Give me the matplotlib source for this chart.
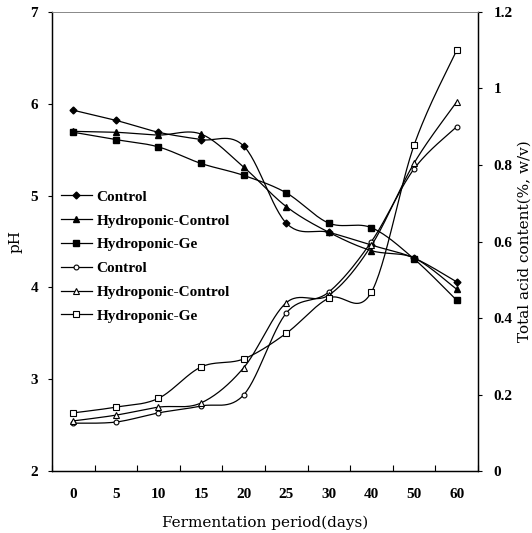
import numpy as np
import matplotlib
matplotlib.use("Agg")
from matplotlib import pyplot as plt
from matplotlib.lines import Line2D

# data
days = ["0", "5", "10", "15", "20", "25", "30", "40", "50", "60"]

ph_control = [5.93, 5.82, 5.69, 5.61, 5.54, 4.70, 4.60, 4.46, 4.32, 4.06]
ph_hydro_ctrl = [5.70, 5.69, 5.66, 5.67, 5.31, 4.88, 4.60, 4.40, 4.32, 3.98]
ph_hydro_ge = [5.69, 5.61, 5.53, 5.35, 5.22, 5.03, 4.70, 4.65, 4.31, 3.86]

acid_control = [0.125, 0.128, 0.152, 0.170, 0.199, 0.413, 0.468, 0.600, 0.790, 0.900]
acid_hydro_ctrl = [0.131, 0.146, 0.167, 0.178, 0.270, 0.440, 0.460, 0.590, 0.805, 0.965]
acid_hydro_ge = [0.152, 0.167, 0.190, 0.272, 0.293, 0.360, 0.452, 0.468, 0.852, 1.100]

labels = ["Control", "Hydroponic-Control", "Hydroponic-Ge"]

plt.rcParams['font.family'] = ['Liberation Serif', 'DejaVu Serif']


def smooth(y, n=30):
    # excel-like smoothed line (bezier, control points at 1/6 of neighbour span)
    x = np.arange(len(y), dtype=float)
    y = np.asarray(y, dtype=float)
    xs, ys = [], []
    for i in range(len(y) - 1):
        p0 = (x[max(i - 1, 0)], y[max(i - 1, 0)])
        p1 = (x[i], y[i])
        p2 = (x[i + 1], y[i + 1])
        p3 = (x[min(i + 2, len(y) - 1)], y[min(i + 2, len(y) - 1)])
        c1 = (p1[0] + (p2[0] - p0[0]) / 6, p1[1] + (p2[1] - p0[1]) / 6)
        c2 = (p2[0] - (p3[0] - p1[0]) / 6, p2[1] - (p3[1] - p1[1]) / 6)
        t = np.linspace(0, 1, n)
        bx = (1-t)**3*p1[0] + 3*(1-t)**2*t*c1[0] + 3*(1-t)*t**2*c2[0] + t**3*p2[0]
        by = (1-t)**3*p1[1] + 3*(1-t)**2*t*c1[1] + 3*(1-t)*t**2*c2[1] + t**3*p2[1]
        xs.extend(bx)
        ys.extend(by)
    return np.array(xs), np.array(ys)


fig = plt.figure(figsize=(5.32, 5.33), dpi=100)
ax = fig.add_axes([0.0977, 0.1163, 0.8008, 0.8612])
ax2 = ax.twinx()

x = np.arange(len(days))
lw = 0.9

ph_series = [(ph_control, 'D', 3.5), (ph_hydro_ctrl, '^', 5), (ph_hydro_ge, 's', 4)]
acid_series = [(acid_control, 'o', 3.5), (acid_hydro_ctrl, '^', 5), (acid_hydro_ge, 's', 4)]

handles = []
for (vals, mk, ms), lab in zip(ph_series, labels):
    sx, sy = smooth(vals)
    ax.plot(sx, sy, color='black', lw=lw)
    ax.plot(x, vals, linestyle='none', marker=mk, ms=ms, color='black')
    handles.append(Line2D([], [], color='black', lw=lw, marker=mk, ms=ms, label=lab))

for (vals, mk, ms), lab in zip(acid_series, labels):
    sx, sy = smooth(vals)
    ax2.plot(sx, sy, color='black', lw=lw)
    ax2.plot(x, vals, linestyle='none', marker=mk, ms=ms, color='black',
             markerfacecolor='white', markeredgewidth=0.8)
    handles.append(Line2D([], [], color='black', lw=lw, marker=mk, ms=ms,
                          markerfacecolor='white', markeredgewidth=0.8, label=lab))

ax.set_xlim(-0.5, len(days) - 0.5)
ax.set_ylim(2, 7)
ax2.set_ylim(0, 1.2)

ax.set_xticks(np.arange(-0.5, len(days) + 0.5, 1))
ax.set_xticklabels([])
ax.set_xticks(x, minor=True)
ax.set_xticklabels(days, minor=True, fontweight='bold', fontsize=11)
ax.tick_params(axis='x', which='major', direction='in', length=4)
ax.tick_params(axis='x', which='minor', length=0, pad=12)

ax.set_yticks([2, 3, 4, 5, 6, 7])
ax.set_yticklabels(["2", "3", "4", "5", "6", "7"], fontweight='bold', fontsize=11)
ax.tick_params(axis='y', direction='out', length=3, pad=7)

ax2.set_yticks([0, 0.2, 0.4, 0.6, 0.8, 1.0, 1.2])
ax2.set_yticklabels(["0", "0.2", "0.4", "0.6", "0.8", "1", "1.2"], fontweight='bold', fontsize=11)
ax2.tick_params(axis='y', direction='out', length=3, pad=8)

lab_font = {'family': 'DejaVu Serif', 'size': 11}
ax.set_xlabel("Fermentation period(days)", fontdict=lab_font, labelpad=11)
ax.set_ylabel("pH", fontdict=lab_font, labelpad=6)
ax2.set_ylabel("Total acid content(%, w/v)", fontdict=lab_font, labelpad=4)

for a in (ax, ax2):
    a.spines['top'].set_color('#888888')
    a.spines['top'].set_linewidth(0.6)
    for s in ('left', 'right', 'bottom'):
        a.spines[s].set_linewidth(0.9)

leg = ax.legend(handles=handles, loc='upper left', bbox_to_anchor=(0.0, 0.632),
                frameon=False, handlelength=2.0, handletextpad=0.3,
                borderaxespad=0.2, labelspacing=0.66,
                prop={'weight': 'bold', 'size': 11})

fig.savefig("out.png", dpi=100)
